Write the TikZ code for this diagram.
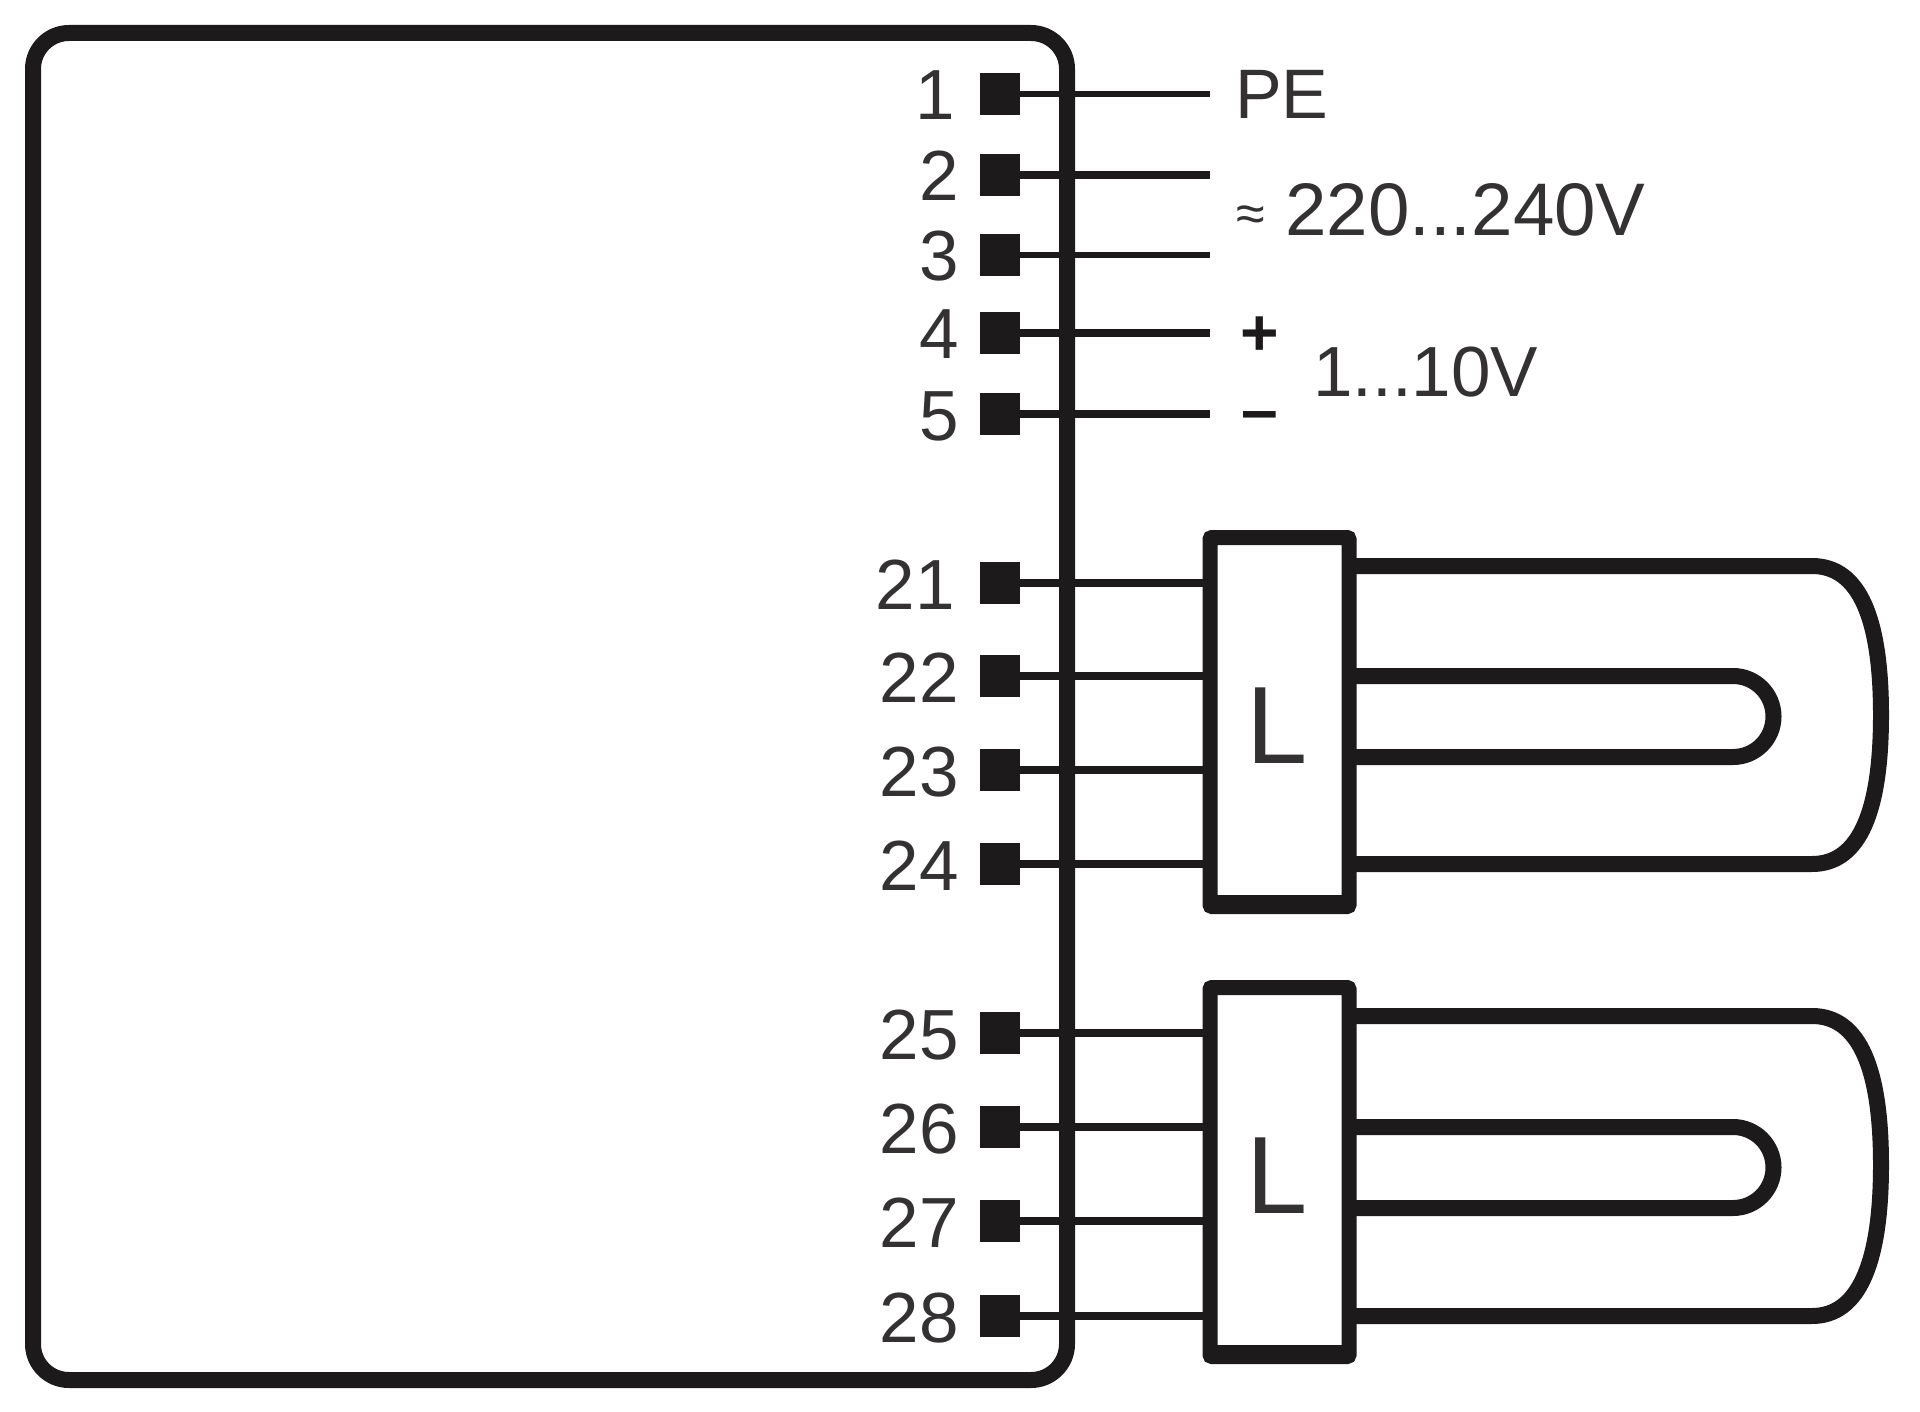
\documentclass[tikz,border=0pt]{standalone}
\usepackage{fontspec}
\setmainfont{Liberation Sans}
\definecolor{ink}{HTML}{1C1A1B}
\definecolor{txt}{HTML}{333132}
\tikzset{
  x=1pt,y=-1pt,
  housing/.style={draw=ink,line width=16pt,rounded corners=36pt},
  term/.style={fill=ink,minimum width=40pt,minimum height=42pt,inner sep=0pt,outer sep=0pt},
  wire/.style={draw=ink,line width=7.5pt},
  thinwire/.style={draw=ink,line width=5.5pt},
  lampbase/.style={draw=ink,line width=15pt,fill=white,rounded corners=2pt,minimum width=139pt,minimum height=369pt,inner sep=0pt,outer sep=0pt},
  tube/.style={draw=ink,line width=16pt},
  num/.style={anchor=base east,text=txt,inner sep=0pt,font=\fontsize{71}{74}\selectfont},
  lab/.style={anchor=base west,text=txt,inner sep=0pt,font=\fontsize{71}{75}\selectfont},
  sign/.style={text=ink,inner sep=0pt,font=\bfseries\fontsize{66}{70}\selectfont}
}
\begin{document}
\begin{tikzpicture}
\useasboundingbox (0,0) rectangle (1920,1412);
\fill[white] (0,0) rectangle (1920,1412);
\draw[housing] (33,33) rectangle (1067,1380);
% terminals
\foreach \n/\yy in {1/94,2/175,3/255,4/333,5/414,21/583,22/676,23/770,24/864,25/1033,26/1127,27/1221,28/1316}{
  \node[term] (t\n) at (1000,\yy) {};
}
\foreach \n/\yy/\xx in {1/94/955,2/175/959,3/255/959,4/333/959,5/414/959,21/583/955,22/676/959,23/770/959,24/864/959,25/1033/959,26/1127/959,27/1221/959,28/1316/959}{
  \node[num] (n\n) at (\xx,\yy+26) {\n};
}
% lamp bases
\node[lampbase] (lampA) at (1279.5,722) {};
\node[lampbase] (lampB) at (1279.5,1172) {};
\fill[ink] (lampA.south west) rectangle +(139,-12);
\fill[ink] (lampB.south west) rectangle +(139,-12);
% free ends
\coordinate (e1) at (1210,94);
\coordinate (e2) at (1210,175);
\coordinate (e3) at (1210,255);
\coordinate (e4) at (1210,333);
\coordinate (e5) at (1210,414);
\draw[thinwire] (t1.center) -- (e1);
\draw[wire] (t2.center) -- (e2);
\draw[thinwire] (t3.center) -- (e3);
\draw[wire] (t4.center) -- (e4);
\draw[wire] (t5.center) -- (e5);
\foreach \n in {21,22,23,24}{\draw[wire] (t\n.center) -- (t\n.center -| lampA.west);}
\foreach \n in {25,26,27,28}{\draw[wire] (t\n.center) -- (t\n.center -| lampB.west);}
% tubes
\draw[tube] (lampA.east |- t21.center) ++(0,-17) coordinate (a1) -- ++(463,0) .. controls +(48,0) and (1881,620) .. (1881,715) .. controls (1881,810) and (1860,864) .. (1812,864) -- (lampA.east |- t24.center);
\draw[tube] (lampA.east |- t22.center) -- (1733,676) arc[start angle=90,end angle=-90,radius=40.5pt] -- (lampA.east |- 0,757);
\draw[tube] (lampB.east |- t25.center) ++(0,-17) coordinate (b1) -- ++(463,0) .. controls +(48,0) and (1881,1070) .. (1881,1165) .. controls (1881,1260) and (1860,1316) .. (1812,1316) -- (lampB.east |- t28.center);
\draw[tube] (lampB.east |- t26.center) -- (1733,1127) arc[start angle=90,end angle=-90,radius=40.5pt] -- (lampB.east |- 0,1208);
% L
\node[text=txt,inner sep=0pt,font=\fontsize{110}{112}\selectfont,anchor=base] (la) at (1277,763) {L};
\node[text=txt,inner sep=0pt,font=\fontsize{110}{112}\selectfont,anchor=base] (lb) at (1277,1213) {L};
% labels
\node[lab,font=\fontsize{70}{74}\selectfont] (pe) at (1235,119) {PE};
\node[lab,font=\fontsize{52}{52}\selectfont] (approx) at (1236,232) {≈};
\node[lab,font=\fontsize{74.5}{78}\selectfont] (mains) at (1285,236) {220...240V};
\node[sign] (plus) at (1260,336) {+};
\node[sign] (minus) at (1260,422) {–};
\node[lab] (dim) at (1313,397) {1...10V};
\end{tikzpicture}
\end{document}
